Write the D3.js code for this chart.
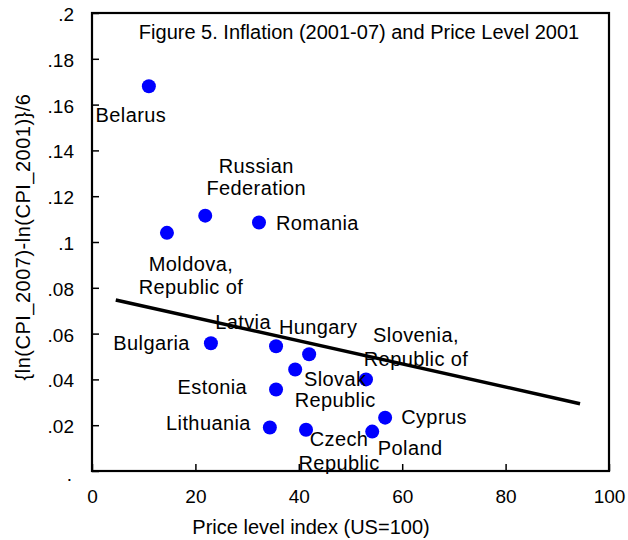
<!DOCTYPE html>
<html><head><meta charset="utf-8">
<script src="https://cdn.jsdelivr.net/npm/d3@7"></script>
<style>
html,body{margin:0;padding:0;background:#fff;}
svg{display:block;}
text{font-family:"Liberation Sans",Arial,sans-serif;fill:#000;}
</style></head>
<body>
<svg id="chart" width="628" height="540"></svg>
<script>
// ---- data ----
const countries = ["Belarus","Moldova, Republic of","Russian Federation","Romania","Bulgaria","Latvia","Hungary","Slovak Republic","Slovenia, Republic of","Estonia","Cyprus","Lithuania","Czech Republic","Poland"];
const priceLevel = [11.0,14.5,21.9,32.3,23.0,35.6,42.0,39.3,53.0,35.6,56.7,34.4,41.4,54.2];
const inflation = [0.168,0.104,0.1115,0.1085,0.0558,0.0545,0.051,0.0443,0.040,0.0356,0.0233,0.019,0.018,0.0172];
const labelLines = [["Belarus"],["Moldova,","Republic of"],["Russian","Federation"],["Romania"],["Bulgaria"],["Latvia"],["Hungary"],["Slovak","Republic"],["Slovenia,","Republic of"],["Estonia"],["Cyprus"],["Lithuania"],["Czech","Republic"],["Poland"]];
const fitX = [4.6, 94.4];
const fitY = [0.0747, 0.0294];
const xTicks = [0,20,40,60,80,100];
const yTicks = [0,0.02,0.04,0.06,0.08,0.1,0.12,0.14,0.16,0.18,0.2];
const yTickLabels = [".",".02",".04",".06",".08",".1",".12",".14",".16",".18",".2"];
const titleText = "Figure 5. Inflation (2001-07) and Price Level 2001";
const xTitle = "Price level index (US=100)";
const yTitle = "{ln(CPI_2007)-ln(CPI_2001)}/6";

// ---- label layout (offsets in px relative to point) ----
const labelLayout = [
  {dx:-18, dy:[29], anchor:"middle"},
  {dx:24, dy:[31,54], anchor:"middle"},
  {dx:51, dy:[-50,-28], anchor:"middle"},
  {dx:17, dy:[0], anchor:"start"},
  {dx:-21, dy:[0], anchor:"end"},
  {dx:-33, dy:[-24], anchor:"middle"},
  {dx:9, dy:[-27], anchor:"middle"},
  {dx:40, dy:[9,30], anchor:"middle"},
  {dx:50, dy:[-44,-20], anchor:"middle"},
  {dx:-29, dy:[-2], anchor:"end"},
  {dx:16, dy:[-1], anchor:"start"},
  {dx:-19, dy:[-4], anchor:"end"},
  {dx:33, dy:[9,33], anchor:"middle"},
  {dx:38, dy:[16], anchor:"middle"}
];

const svg = d3.select("#chart");
const L = 92, R = 609, T = 13, B = 471;
const x = d3.scaleLinear().domain([0,100]).range([L,R]);
const y = d3.scaleLinear().domain([0,0.2]).range([B,T]);
const FS = 20, TFS = 19;

// frame
svg.append("rect").attr("x",L).attr("y",T).attr("width",R-L).attr("height",B-T)
  .attr("fill","none").attr("stroke","#000").attr("stroke-width",2.2);

// axes with inward ticks
const yAxis = d3.axisLeft(y).tickValues(yTicks).tickFormat((d,i)=>yTickLabels[i]).tickSizeInner(-7).tickSizeOuter(0).tickPadding(18);
const gy = svg.append("g").attr("transform",`translate(${L},0)`).call(yAxis);
gy.select(".domain").remove();
gy.selectAll("line").attr("stroke","#000").attr("stroke-width",1.5);
gy.selectAll("text").attr("font-size",TFS).attr("font-family","Liberation Sans, Arial, sans-serif").attr("fill","#000")
  .attr("x",-18).attr("dy",null).attr("y",1).attr("dominant-baseline","central");
gy.selectAll(".tick").filter(d=>d===0).select("text").attr("x",-20).attr("y",3);

const xAxis = d3.axisBottom(x).tickValues(xTicks).tickFormat(d3.format("d")).tickSizeInner(-7).tickSizeOuter(0).tickPadding(18);
const gx = svg.append("g").attr("transform",`translate(0,${B})`).call(xAxis);
gx.select(".domain").remove();
gx.selectAll("line").attr("stroke","#000").attr("stroke-width",1.5);
gx.selectAll("text").attr("font-size",TFS).attr("font-family","Liberation Sans, Arial, sans-serif").attr("fill","#000")
  .attr("y",25).attr("dy",null).attr("dominant-baseline","central");

// titles
svg.append("text").attr("x",359).attr("y",32).attr("text-anchor","middle").attr("dominant-baseline","central")
  .attr("font-size",FS).text(titleText);
svg.append("text").attr("x",311).attr("y",527).attr("text-anchor","middle").attr("dominant-baseline","central")
  .attr("font-size",FS).text(xTitle);
svg.append("text").attr("transform",`translate(23,237) rotate(-90)`).attr("text-anchor","middle")
  .attr("dominant-baseline","central").attr("font-size",FS).attr("letter-spacing",0.5).text(yTitle);

// fit line
svg.append("line").attr("x1",x(fitX[0])).attr("y1",y(fitY[0])).attr("x2",x(fitX[1])).attr("y2",y(fitY[1]))
  .attr("stroke","#000").attr("stroke-width",3.5);

// points
const pts = countries.map((c,i)=>({c, px:priceLevel[i], inf:inflation[i], lines:labelLines[i], lay:labelLayout[i]}));
svg.append("g").selectAll("circle").data(pts).join("circle")
  .attr("cx",d=>x(d.px)).attr("cy",d=>y(d.inf)).attr("r",7).attr("fill","#0000ff");

// labels
const lg = svg.append("g");
pts.forEach(d=>{
  d.lines.forEach((ln,j)=>{
    lg.append("text").attr("x",x(d.px)+d.lay.dx).attr("y",y(d.inf)+d.lay.dy[j])
      .attr("text-anchor",d.lay.anchor).attr("dominant-baseline","central").attr("font-size",FS)
      .attr("letter-spacing",0.4).text(ln);
  });
});
</script>
</body></html>
